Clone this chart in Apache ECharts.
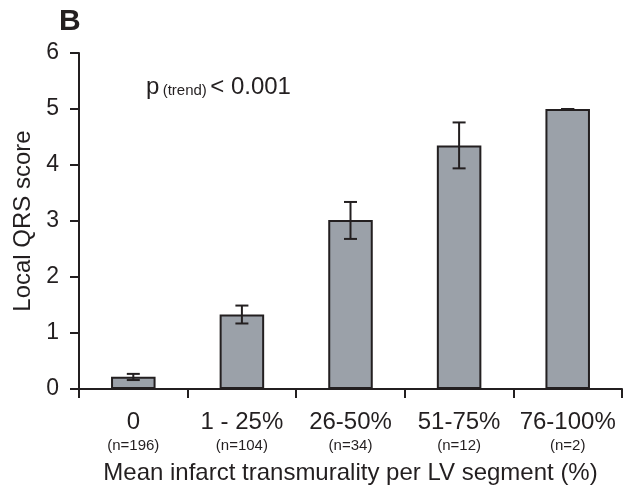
<!DOCTYPE html>
<html>
<head>
<meta charset="utf-8">
<script src="https://cdn.jsdelivr.net/npm/echarts@6/dist/echarts.min.js"></script>
<style>
  html, body { margin: 0; padding: 0; background: #fff; }
  #chart { width: 634px; height: 498px; }
</style>
</head>
<body>
<div id="chart"></div>
<script>
// ---- data ----
const categories = ['0', '1 - 25%', '26-50%', '51-75%', '76-100%'];
const counts = ['(n=196)', '(n=104)', '(n=34)', '(n=12)', '(n=2)'];
const means = [0.22, 1.33, 3.02, 4.35, 5.0];
const errLow = [0.16, 1.17, 2.68, 3.94, 5.0];
const errHigh = [0.27, 1.49, 3.34, 4.76, 5.0];
const yTicks = [0, 1, 2, 3, 4, 5, 6];

const dark = '#231f20';
const FONT = 'Liberation Sans, Arial, sans-serif';

const chart = echarts.init(document.getElementById('chart'), null, { renderer: 'canvas' });

const errData = categories.map((c, i) => [i, errLow[i], errHigh[i]]);

chart.setOption({
  animation: false,
  backgroundColor: '#ffffff',
  textStyle: { fontFamily: FONT, color: dark },
  grid: { left: 79, right: 12, top: 53, bottom: 109, containLabel: false },
  graphic: [
    { type: 'text', left: 59, top: 7, style: { text: 'B', font: 'bold 30px ' + FONT, fill: dark } },
    {
      type: 'text', left: 146, top: 75,
      style: {
        text: '{p|p} {t|(trend)} {p|< 0.001}',
        rich: {
          p: { fontSize: 24, fontFamily: FONT, fill: dark, color: dark },
          t: { fontSize: 15, fontFamily: FONT, fill: dark, color: dark, padding: [7, 0, 0, 0] }
        }
      }
    }
  ],
  xAxis: {
    type: 'category',
    data: categories,
    boundaryGap: true,
    axisLine: { lineStyle: { color: dark, width: 2 } },
    axisTick: { show: true, alignWithLabel: false, length: 9, lineStyle: { color: dark, width: 2 } },
    axisLabel: {
      interval: 0,
      margin: 19,
      formatter: (v, i) => '{a|' + v + '}\n{b|' + counts[i] + '}',
      rich: {
        a: { fontSize: 24, lineHeight: 28, fontFamily: FONT, color: dark },
        b: { fontSize: 15, lineHeight: 20, fontFamily: FONT, color: dark }
      }
    },
    name: 'Mean infarct transmurality per LV segment (%)',
    nameLocation: 'middle',
    nameGap: 72,
    nameTextStyle: { fontSize: 24, fontFamily: FONT, color: dark }
  },
  yAxis: {
    type: 'value',
    min: yTicks[0],
    max: yTicks[yTicks.length - 1],
    interval: 1,
    splitLine: { show: false },
    axisLine: { show: true, lineStyle: { color: dark, width: 2 } },
    axisTick: { show: true, length: 9, lineStyle: { color: dark, width: 2 } },
    axisLabel: { margin: 20, fontSize: 23, fontFamily: FONT, color: dark },
    name: 'Local QRS score',
    nameLocation: 'middle',
    nameGap: 44,
    nameTextStyle: { fontSize: 24, fontFamily: FONT, color: dark }
  },
  series: [
    {
      type: 'bar',
      data: means,
      barWidth: '41%',
      itemStyle: { color: '#9ba1a9', borderColor: dark, borderWidth: 2 },
      z: 2
    },
    {
      type: 'custom',
      data: errData,
      z: 5,
      renderItem: (params, api) => {
        const x = api.value(0);
        const lo = api.coord([x, api.value(1)]);
        const hi = api.coord([x, api.value(2)]);
        const half = 6.5;
        const style = { stroke: dark, lineWidth: 2 };
        return {
          type: 'group',
          children: [
            { type: 'line', shape: { x1: hi[0], y1: hi[1], x2: lo[0], y2: lo[1] }, style },
            { type: 'line', shape: { x1: hi[0] - half, y1: hi[1], x2: hi[0] + half, y2: hi[1] }, style },
            { type: 'line', shape: { x1: lo[0] - half, y1: lo[1], x2: lo[0] + half, y2: lo[1] }, style }
          ]
        };
      }
    }
  ]
});
</script>
</body>
</html>
